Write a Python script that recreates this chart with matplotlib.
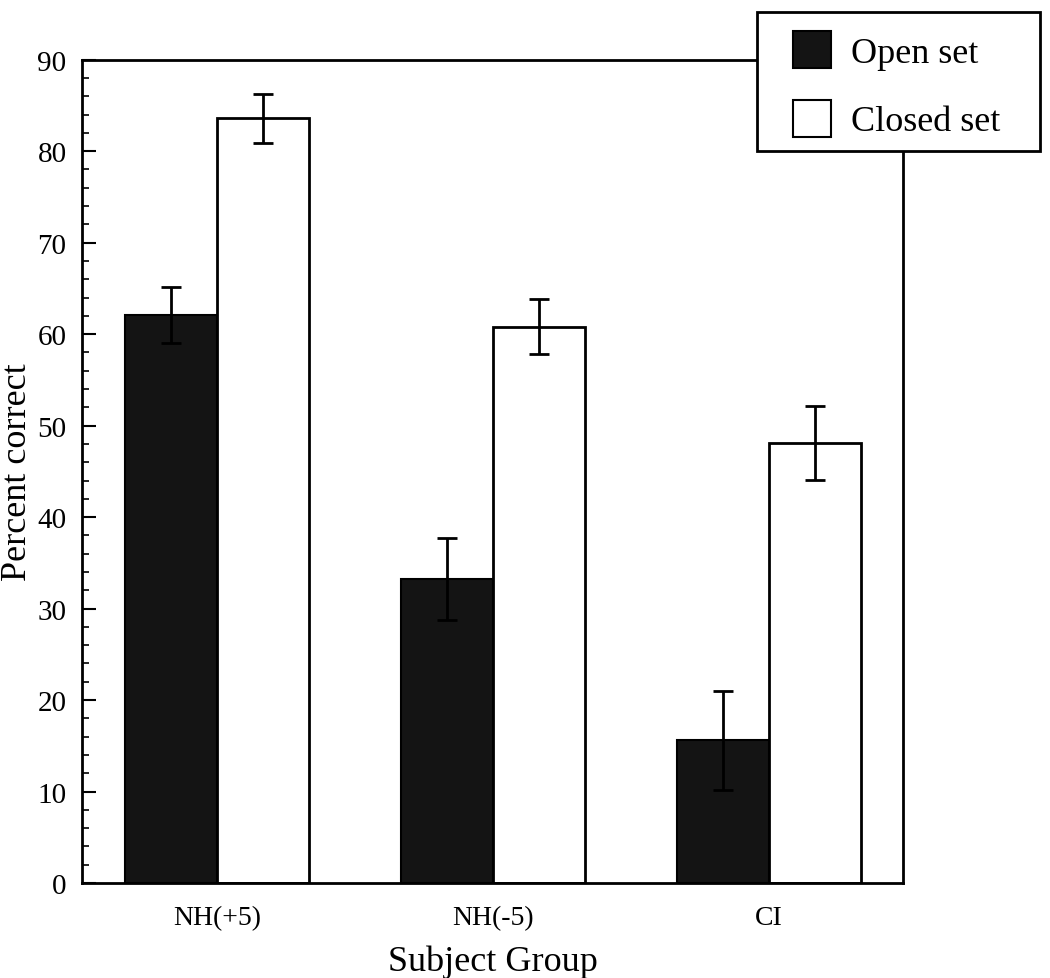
import matplotlib
matplotlib.use("Agg")
import matplotlib.pyplot as plt
import numpy as np
from matplotlib.patches import Patch, Rectangle
from matplotlib.ticker import MultipleLocator

plt.rcParams['font.family'] = ['Liberation Serif', 'DejaVu Serif']

groups = ["NH(+5)", "NH(-5)", "CI"]
open_set = [62.1, 33.2, 15.6]
open_err = [3.1, 4.5, 5.4]
closed_set = [83.6, 60.8, 48.1]
closed_err = [2.7, 3.0, 4.0]
series_labels = ["Open set", "Closed set"]

fig = plt.figure(figsize=(10.5, 9.79), dpi=100)
ax = fig.add_axes([0.078, 0.097, 0.782, 0.841])

x = np.arange(len(groups))
w = 0.333
ax.bar(x - w/2, open_set, w, color='#141414', edgecolor='black', linewidth=1.5, zorder=2)
ax.bar(x + w/2, closed_set, w, color='white', edgecolor='black', linewidth=2, zorder=2)
ax.errorbar(x - w/2, open_set, yerr=open_err, fmt='none', ecolor='black',
            elinewidth=2, capsize=7, capthick=2, zorder=3)
ax.errorbar(x + w/2, closed_set, yerr=closed_err, fmt='none', ecolor='black',
            elinewidth=2, capsize=7, capthick=2, zorder=3)

ax.set_xlim(-0.489, 2.486)
ax.set_ylim(0, 90)
ax.set_xticks(x)
ax.set_xticklabels(groups, fontsize=20)
ax.tick_params(axis='x', length=0, pad=16)
ax.yaxis.set_major_locator(MultipleLocator(10))
ax.yaxis.set_minor_locator(MultipleLocator(2))
ax.tick_params(axis='y', which='major', direction='in', length=10, width=1.5, labelsize=21, pad=11)
ax.tick_params(axis='y', which='minor', direction='in', length=5, width=1.2)
for s in ax.spines.values():
    s.set_linewidth(2)
ax.set_ylabel("Percent correct", fontsize=26)
ax.yaxis.set_label_coords(-0.058, 0.5)
ax.set_xlabel("Subject Group", fontsize=26, labelpad=10)

# legend box (drawn in figure pixels, overlapping the axes frame)
W, H = 1050, 979
box = Rectangle((757 / W, 1 - 152 / H), 283 / W, 139 / H, transform=fig.transFigure,
                facecolor='white', edgecolor='black', linewidth=2, zorder=4)
fig.patches.append(box)

handles = [Patch(facecolor='#141414', edgecolor='black', linewidth=1.5),
           Patch(facecolor='white', edgecolor='black', linewidth=1.5)]
leg = fig.legend(handles, series_labels, loc='upper left',
                 bbox_to_anchor=(793 / W, 1 - 32 / H), borderaxespad=0, borderpad=0,
                 fontsize=26, frameon=False,
                 handlelength=1.05, handleheight=1.2,
                 labelspacing=0.83, handletextpad=0.55)
leg.set_zorder(6)

fig.savefig("out.png", dpi=100)
